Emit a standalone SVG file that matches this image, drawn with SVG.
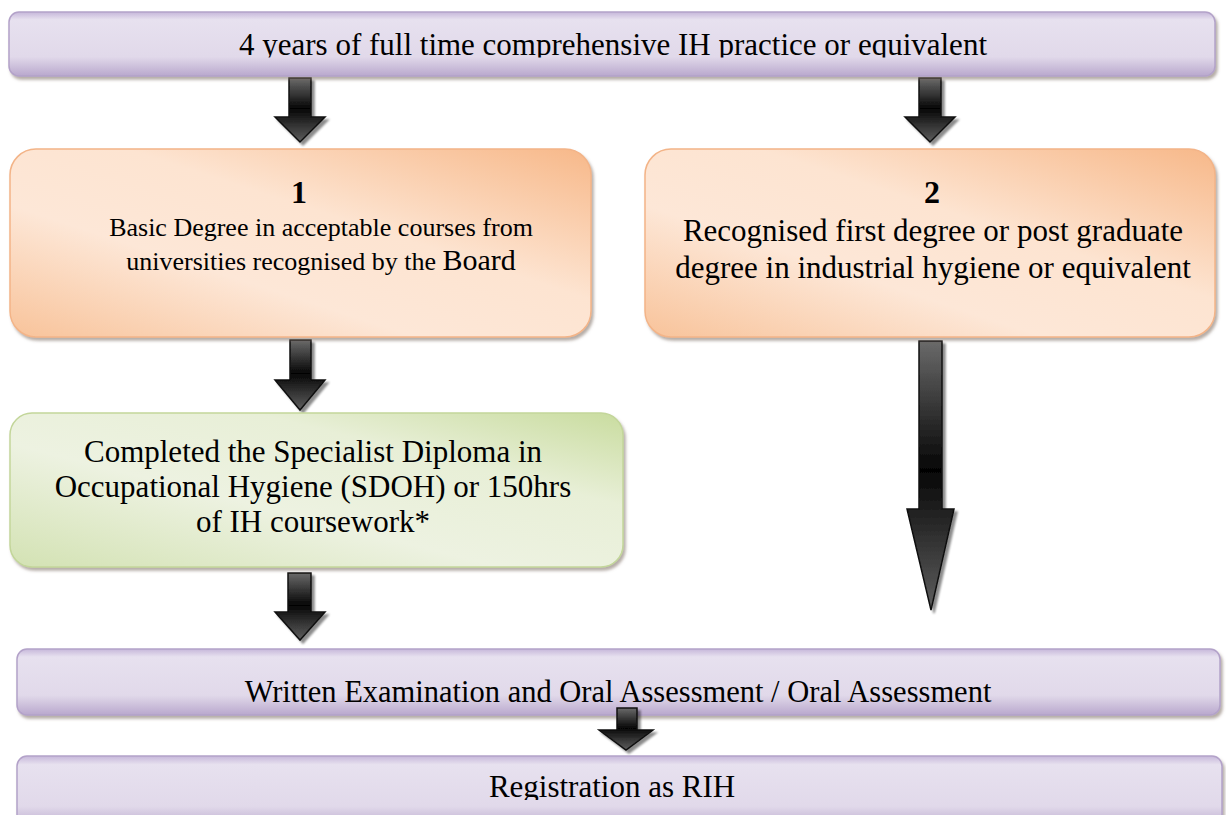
<svg xmlns="http://www.w3.org/2000/svg" width="1226" height="815" viewBox="0 0 1226 815">
<style>
text{font-family:"Liberation Serif","Times New Roman",serif;fill:#000;text-anchor:middle}
.bar{fill:url(#gPurple);stroke:#b3a2c9;stroke-width:1.5;filter:url(#sh)}
.org{fill:url(#gOrange);stroke:#f3b488;stroke-width:1.5;filter:url(#sh)}
.grn{fill:url(#gGreen);stroke:#c3d69a;stroke-width:1.5;filter:url(#sh)}
.arr{fill:url(#gArrow);stroke:#111;stroke-width:1.5;stroke-linejoin:miter;filter:url(#ash)}
</style>
<defs>
<linearGradient id="gPurple" x1="0" y1="0" x2="0" y2="1">
<stop offset="0" stop-color="#c6b7da"/>
<stop offset="0.12" stop-color="#e7e1ef"/>
<stop offset="0.7" stop-color="#e1d9ea"/>
<stop offset="1" stop-color="#b9a8cd"/>
</linearGradient>
<linearGradient id="gOrange" x1="0" y1="1" x2="1" y2="0">
<stop offset="0" stop-color="#f8c39a"/>
<stop offset="0.35" stop-color="#fde7d7"/>
<stop offset="0.6" stop-color="#fde4d1"/>
<stop offset="1" stop-color="#f7b889"/>
</linearGradient>
<linearGradient id="gGreen" x1="0" y1="1" x2="1" y2="0">
<stop offset="0" stop-color="#d3e2b3"/>
<stop offset="0.4" stop-color="#edf2e1"/>
<stop offset="0.7" stop-color="#e8efd7"/>
<stop offset="1" stop-color="#c9dc9f"/>
</linearGradient>
<linearGradient id="gArrow" x1="0" y1="0" x2="0" y2="1">
<stop offset="0" stop-color="#6a6a6a"/>
<stop offset="0.48" stop-color="#050505"/>
<stop offset="0.62" stop-color="#1e1e1e"/>
<stop offset="1" stop-color="#5e5e5e"/>
</linearGradient>
<filter id="sh" x="-5%" y="-10%" width="110%" height="130%">
<feDropShadow dx="2" dy="3" stdDeviation="1.5" flood-color="#7a6a60" flood-opacity="0.55"/>
</filter>
<filter id="ash" x="-30%" y="-10%" width="160%" height="130%">
<feDropShadow dx="3" dy="3" stdDeviation="1.2" flood-color="#000" flood-opacity="0.45"/>
</filter>
<clipPath id="clipTop"><rect x="0" y="0" width="1226" height="57.5"/></clipPath>
<clipPath id="clipReg"><rect x="0" y="740" width="1226" height="60"/></clipPath>
</defs>

<g id="connectors">
<path class="arr" d="M289,78 H311 V117 H325 L300,142 L275,117 H289 Z"/>
<path class="arr" d="M919,78 H941 V117 H955 L930,142 L905,117 H919 Z"/>
<path class="arr" d="M290,340 H311 V380 H325 L300,410 L275,380 H290 Z"/>
<path class="arr" d="M288,573 H311 V612 H325 L300,640 L275,612 H288 Z"/>
<path class="arr" d="M919,341 H942 V509 H954 L931,610 L907,509 H919 Z"/>
</g>

<g id="node-top">
<rect class="bar" x="9" y="12" width="1206" height="64" rx="10"/>
<text x="613" y="55" font-size="31" clip-path="url(#clipTop)">4 years of full time comprehensive IH practice or equivalent</text>
</g>

<g id="node-1">
<rect class="org" x="10" y="149" width="581" height="188" rx="26"/>
<text x="299" y="203" font-size="32" font-weight="bold">1</text>
<text x="321" y="236" font-size="26">Basic Degree in acceptable courses from</text>
<text x="321" y="270" font-size="26">universities recognised by the <tspan font-size="30">Board</tspan></text>
</g>

<g id="node-2">
<rect class="org" x="645" y="149" width="570" height="188" rx="26"/>
<text x="932" y="203" font-size="32" font-weight="bold">2</text>
<text x="933" y="241" font-size="31">Recognised first degree or post graduate</text>
<text x="933" y="278" font-size="31">degree in industrial hygiene or equivalent</text>
</g>

<g id="node-3">
<rect class="grn" x="10" y="413" width="613" height="154" rx="22"/>
<text x="313" y="462" font-size="31">Completed the Specialist Diploma in</text>
<text x="313" y="497" font-size="31">Occupational Hygiene (SDOH) or 150hrs</text>
<text x="313" y="532" font-size="31">of IH coursework*</text>
</g>

<g id="node-exam">
<rect class="bar" x="17" y="649" width="1203" height="66" rx="10"/>
<text x="618" y="702" font-size="30.5">Written Examination and Oral Assessment / Oral Assessment</text>
</g>

<g id="connector-small">
<path class="arr" d="M617,708 H637 V730 H653 L626,750 L599,730 H617 Z"/>
</g>

<g id="node-rih">
<rect class="bar" x="17" y="756" width="1205" height="72" rx="10"/>
<text x="612" y="797" font-size="31" clip-path="url(#clipReg)">Registration as RIH</text>
</g>
</svg>
